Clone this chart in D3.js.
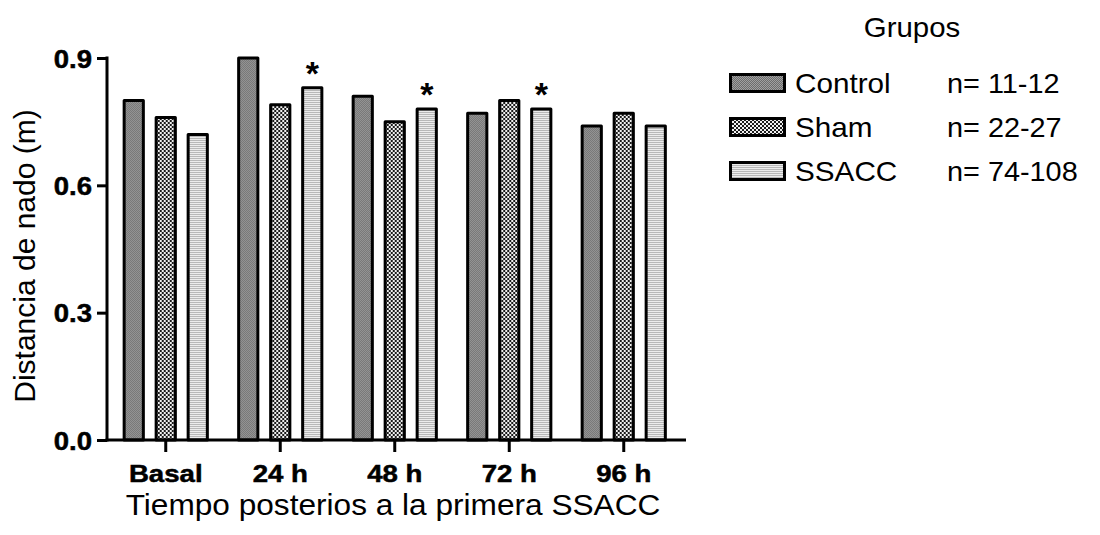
<!DOCTYPE html>
<html>
<head>
<meta charset="utf-8">
<script src="https://cdn.jsdelivr.net/npm/d3@7"></script>
<style>
  html, body { margin: 0; padding: 0; background: #fff; }
  svg { display: block; font-family: "Liberation Sans", Arial, sans-serif; }
</style>
</head>
<body>
<svg id="chart" width="1100" height="535"></svg>
<script>
// ---- data ----
const categories = ["Basal", "24 h", "48 h", "72 h", "96 h"];
const series = ["Control", "Sham", "SSACC"];
const controlValues = [0.80, 0.90, 0.81, 0.77, 0.74];
const shamValues    = [0.76, 0.79, 0.75, 0.80, 0.77];
const ssaccValues   = [0.72, 0.83, 0.78, 0.78, 0.74];
const significant   = [false, true, true, true, false]; // asterisk over SSACC
const nLabels = ["n= 11-12", "n= 22-27", "n= 74-108"];
const yTicks = [0.0, 0.3, 0.6, 0.9];
const yTickLabels = ["0.0", "0.3", "0.6", "0.9"];

const valuesBySeries = { Control: controlValues, Sham: shamValues, SSACC: ssaccValues };
const rows = categories.map((c, i) => ({ cat: c, i, vals: series.map(s => ({ s, v: valuesBySeries[s][i] })) }));

const svg = d3.select("#chart");

// ---- patterns ----
const defs = svg.append("defs");
const pC = defs.append("pattern").attr("id", "pat-Control").attr("patternUnits", "userSpaceOnUse").attr("width", 2).attr("height", 2);
pC.append("rect").attr("width", 2).attr("height", 2).attr("fill", "#a0a0a0");
pC.append("rect").attr("width", 1).attr("height", 1).attr("fill", "#6c6c6c");
pC.append("rect").attr("x", 1).attr("y", 1).attr("width", 1).attr("height", 1).attr("fill", "#6c6c6c");

const pS = defs.append("pattern").attr("id", "pat-Sham").attr("patternUnits", "userSpaceOnUse").attr("width", 4).attr("height", 4);
pS.append("rect").attr("width", 4).attr("height", 4).attr("fill", "#f0f0f0");
pS.append("rect").attr("width", 2).attr("height", 2).attr("fill", "#1a1a1a");
pS.append("rect").attr("x", 2).attr("y", 2).attr("width", 2).attr("height", 2).attr("fill", "#1a1a1a");

const pX = defs.append("pattern").attr("id", "pat-SSACC").attr("patternUnits", "userSpaceOnUse").attr("width", 2).attr("height", 2);
pX.append("rect").attr("width", 2).attr("height", 2).attr("fill", "#ececec");
pX.append("rect").attr("width", 2).attr("height", 1).attr("fill", "#b8b8b8");

// ---- scales ----
const y = d3.scaleLinear().domain([0, 0.9]).range([440, 58]);
const x = d3.scaleBand().domain(categories).range([108.5, 681]).padding(0);
const xs = d3.scaleBand().domain(series).range([-48, 48]).paddingInner(0.4).paddingOuter(0.2);

function stretch(sel, f) {
  sel.each(function () {
    const w = this.getComputedTextLength();
    d3.select(this).attr("textLength", w * f).attr("lengthAdjust", "spacingAndGlyphs");
  });
}

// ---- bars ----
const g = svg.append("g");
const groups = g.selectAll("g.grp").data(rows).join("g")
  .attr("class", "grp")
  .attr("transform", d => `translate(${x(d.cat) + x.bandwidth() / 2},0)`);

groups.selectAll("rect").data(d => d.vals).join("rect")
  .attr("x", d => xs(d.s))
  .attr("width", xs.bandwidth())
  .attr("y", d => y(d.v))
  .attr("height", d => y(0) - y(d.v))
  .attr("fill", d => `url(#pat-${d.s})`)
  .attr("stroke", "#000")
  .attr("stroke-width", 3)
  .attr("stroke-linejoin", "round");

// asterisks
groups.filter(d => significant[d.i]).append("text")
  .attr("x", xs("SSACC") + xs.bandwidth() / 2)
  .attr("y", d => y(valuesBySeries.SSACC[d.i]) - 3)
  .attr("text-anchor", "middle")
  .attr("font-weight", "bold")
  .attr("font-size", 34)
  .text("*");

// ---- axes ----
const yAxis = d3.axisLeft(y).tickValues(yTicks).tickFormat((d, i) => yTickLabels[i]).tickSize(10).tickPadding(5);
const gy = svg.append("g").attr("transform", "translate(107,0)").call(yAxis);
gy.select(".domain").remove();
gy.append("line").attr("x1", 0).attr("x2", 0).attr("y1", y(0.9) - 1.5).attr("y2", y(0) + 1.5)
  .attr("stroke", "#000").attr("stroke-width", 3);
gy.selectAll(".tick line").attr("stroke", "#000").attr("stroke-width", 3);
gy.selectAll(".tick text").attr("font-size", 25).attr("font-weight", "bold").attr("fill", "#000")
  .attr("font-family", "Liberation Sans, Arial, sans-serif").attr("dy", "0.36em")
  .attr("stroke", "#000").attr("stroke-width", 0.5);
stretch(gy.selectAll(".tick text"), 1.1);

const xAxis = d3.axisBottom(x).tickSize(12).tickPadding(7);
const gx = svg.append("g").attr("transform", "translate(0,440)").call(xAxis);
gx.select(".domain").remove();
gx.append("line").attr("x1", 105.5).attr("x2", 686).attr("y1", 0).attr("y2", 0)
  .attr("stroke", "#000").attr("stroke-width", 3);
gx.selectAll(".tick line").attr("stroke", "#000").attr("stroke-width", 3);
gx.selectAll(".tick text").attr("font-size", 24).attr("font-weight", "bold").attr("fill", "#000")
  .attr("font-family", "Liberation Sans, Arial, sans-serif").attr("dy", "0.95em")
  .attr("stroke", "#000").attr("stroke-width", 0.5);
stretch(gx.selectAll(".tick text"), 1.15);

// ---- axis titles ----
const xt = svg.append("text").attr("x", 393).attr("y", 515).attr("text-anchor", "middle")
  .attr("font-size", 29).text("Tiempo posterios a la primera SSACC");
stretch(xt, 1.09);

svg.append("text").attr("transform", "translate(35,256) rotate(-90)").attr("text-anchor", "middle")
  .attr("font-size", 30).text("Distancia de nado (m)");

// ---- legend ----
const lg = svg.append("g");
const gt = lg.append("text").attr("x", 912).attr("y", 37).attr("text-anchor", "middle").attr("font-size", 28).text("Grupos");
stretch(gt, 1.05);
const item = lg.selectAll("g.item").data(series).join("g").attr("class", "item")
  .attr("transform", (d, i) => `translate(0,${83 + i * 44})`);
item.append("rect").attr("x", 730.5).attr("y", -8.5).attr("width", 54).attr("height", 17)
  .attr("fill", d => `url(#pat-${d})`).attr("stroke", "#000").attr("stroke-width", 3);
const lt = item.append("text").attr("x", 795).attr("y", 9.5).attr("font-size", 28).text(d => d);
stretch(lt, 1.06);
const nt = item.append("text").attr("x", 947).attr("y", 9.5).attr("font-size", 28).text((d, i) => nLabels[i]);
stretch(nt, 1.03);
</script>
</body>
</html>
